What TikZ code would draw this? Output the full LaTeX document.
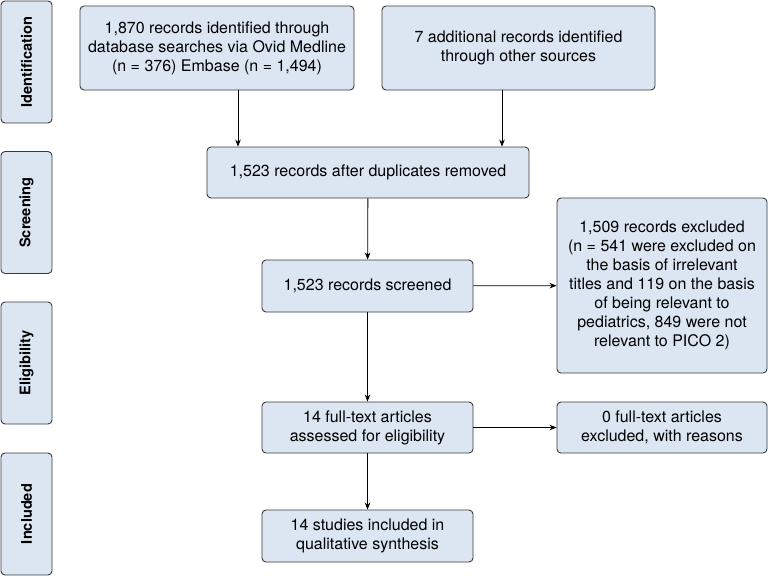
\documentclass[tikz,border=0pt]{standalone}
\usepackage{fontspec}
\setmainfont{TeX Gyre Heros}
\usepackage{tikz}
\usetikzlibrary{arrows.meta, positioning}

\definecolor{boxfill}{HTML}{DCE6F2}
\definecolor{boxline}{HTML}{3A3A3A}

\begin{document}
\begin{tikzpicture}[
    x=1pt, y=-1pt,
    thick,
    >={Stealth[length=7pt, width=5.5pt]},
    every node/.style={font=\fontsize{16}{19}\selectfont},
    box/.style={rectangle, rounded corners=4pt, draw=boxline, line width=0.9pt,
        fill=boxfill, align=center, inner sep=0pt},
    stage/.style={box, font=\fontsize{14.6}{18}\selectfont\bfseries,
        minimum width=51pt, minimum height=122pt}
]
\useasboundingbox (0,0) rectangle (768,576);

% Stage labels
\node[stage] (ident) at (26.5,62) {\rotatebox{90}{Identification}};
\node[stage] (screen) at (26.5,212.5) {\rotatebox{90}{Screening}};
\node[stage] (elig) at (26.5,363) {\rotatebox{90}{Eligibility}};
\node[stage] (incl) at (26.5,514) {\rotatebox{90}{Included}};

% Boxes
\node[box, minimum width=274pt, minimum height=84pt] (db) at (217,48)
    {1,870 records identified through\\database searches via Ovid Medline\\(n = 376) Embase (n = 1,494)};
\node[box, minimum width=273pt, minimum height=84pt] (other) at (518.5,48)
    {7 additional records identified\\through other sources};
\node[box, minimum width=322pt, minimum height=51pt] (dup) at (368,172.5)
    {1,523 records after duplicates removed};
\node[box, minimum width=211pt, minimum height=52pt] (scr) at (367.5,286)
    {1,523 records screened};
\node[box, minimum width=210pt, minimum height=175pt] (excl) at (662,285.5)
    {1,509 records excluded\\(n = 541 were excluded on\\the basis of irrelevant\\titles and 119 on the basis\\of being relevant to\\pediatrics, 849 were not\\relevant to PICO 2)};
\node[box, minimum width=211pt, minimum height=51pt] (full) at (367.5,427.5)
    {14 full-text articles\\assessed for eligibility};
\node[box, minimum width=210pt, minimum height=51pt] (fullex) at (662,427.5)
    {0 full-text articles\\excluded, with reasons};
\node[box, minimum width=211pt, minimum height=52pt] (qual) at (367.5,536)
    {14 studies included in\\qualitative synthesis};

% Arrows
\draw[->, line width=0.8pt] (db.south -| 238,0) -- (dup.north -| 238,0);
\draw[->, line width=0.8pt] (other.south -| 502,0) -- (dup.north -| 502,0);
\draw[->, line width=0.8pt] (dup) -- (scr);
\draw[->, line width=0.8pt] (scr) -- (excl);
\draw[->, line width=0.8pt] (scr) -- (full);
\draw[->, line width=0.8pt] (full) -- (fullex);
\draw[->, line width=0.8pt] (full) -- (qual);

\end{tikzpicture}
\end{document}
